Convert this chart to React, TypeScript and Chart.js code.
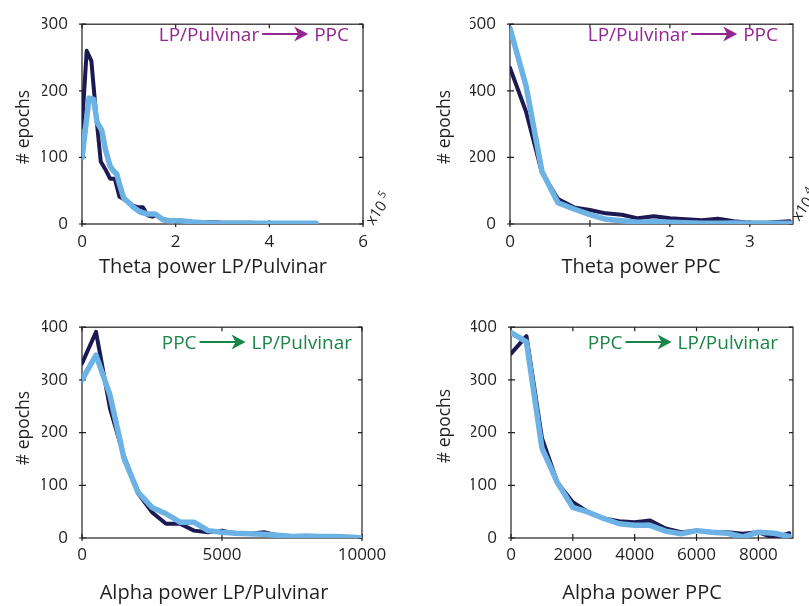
import React, { useEffect, useRef } from "react";
import { Chart, registerables } from "chart.js";

Chart.register(...registerables);
Chart.defaults.font.family = "'Open Sans', sans-serif";
Chart.defaults.color = "#231f20";

// ---- Panel 1: Theta power LP/Pulvinar (x10^5) ----
const thetaLpDarkX = [0, 0.1, 0.2, 0.3, 0.4, 0.5, 0.6, 0.7, 0.8, 0.9, 1.0, 1.1, 1.2, 1.3, 1.4, 1.5, 1.6, 1.7, 1.8, 2.0, 2.2, 2.4, 2.6, 2.8, 3.0, 3.2, 3.4, 3.6, 3.8, 4.0, 4.2, 4.4, 4.6, 4.8, 5.0];
const thetaLpDarkY = [146, 260, 245, 165, 94, 82, 68, 68, 41, 37, 32, 27, 25, 25, 13, 11, 13, 8, 6, 4, 4, 3, 3, 3, 2, 2, 2, 2, 1, 1, 1, 1, 1, 1, 1];
const thetaLpLightX = [0, 0.15, 0.25, 0.32, 0.42, 0.5, 0.6, 0.67, 0.74, 0.8, 0.89, 1.0, 1.1, 1.24, 1.4, 1.56, 1.74, 1.9, 2.1, 2.35, 2.6, 3.0, 3.5, 4.0, 4.5, 5.0];
const thetaLpLightY = [99, 189, 187, 153, 141, 112, 87, 80, 75, 60, 39, 32, 25, 18, 15, 15, 6, 5, 5, 3, 2, 1, 1, 1, 1, 1];
const thetaLpXTicks = [0, 2, 4, 6];
const thetaLpYTicks = [0, 100, 200, 300];

// ---- Panel 2: Theta power PPC (x10^4) ----
const thetaPpcDarkX = [0, 0.2, 0.4, 0.6, 0.8, 1.0, 1.2, 1.4, 1.6, 1.8, 2.0, 2.2, 2.4, 2.6, 2.8, 3.0, 3.2, 3.5];
const thetaPpcDarkY = [469, 338, 154, 75, 50, 42, 32, 28, 17, 23, 17, 14, 11, 16, 8, 4, 4, 8];
const thetaPpcLightX = [0, 0.2, 0.4, 0.6, 0.8, 1.0, 1.2, 1.4, 1.6, 1.8, 2.0, 2.2, 2.4, 2.6, 2.8, 3.0, 3.2, 3.5];
const thetaPpcLightY = [588, 415, 158, 64, 45, 28, 14, 10, 5, 7, 5, 4, 2, 2, 3, 2, 2, 2];
const thetaPpcXTicks = [0, 1, 2, 3];
const thetaPpcYTicks = [0, 200, 400, 600];

// ---- Panel 3: Alpha power LP/Pulvinar ----
const alphaLpX = [0, 500, 1000, 1500, 2000, 2500, 3000, 3500, 4000, 4500, 5000, 5500, 6000, 6500, 7000, 7500, 8000, 8500, 9000, 9500, 10000];
const alphaLpDarkY = [331, 391, 246, 155, 85, 49, 27, 27, 14, 11, 14, 8, 8, 11, 5, 3, 3, 0, 3, 2, 0];
const alphaLpLightY = [300, 347, 271, 151, 87, 58, 46, 30, 30, 14, 11, 9, 8, 7, 5, 3, 4, 3, 3, 2, 0];
const alphaLpXTicks = [0, 5000, 10000];
const alphaLpYTicks = [0, 100, 200, 300, 400];

// ---- Panel 4: Alpha power PPC ----
const alphaPpcX = [0, 500, 1000, 1500, 2000, 2500, 3000, 3500, 4000, 4500, 5000, 5500, 6000, 6500, 7000, 7500, 8000, 8500, 9000];
const alphaPpcDarkY = [350, 383, 190, 105, 68, 49, 37, 32, 30, 33, 18, 11, 14, 11, 11, 8, 11, 0, 9];
const alphaPpcLightY = [390, 372, 171, 105, 58, 49, 37, 27, 24, 24, 13, 8, 14, 11, 9, 2, 11, 9, 3];
const alphaPpcXTicks = [0, 2000, 4000, 6000, 8000];
const alphaPpcYTicks = [0, 100, 200, 300, 400];

const xTitles = ["Theta power LP/Pulvinar", "Theta power PPC", "Alpha power LP/Pulvinar", "Alpha power PPC"];
const yTitle = "# epochs";
const annotLp = ["LP/Pulvinar", "PPC"];
const annotPpc = ["PPC", "LP/Pulvinar"];

const DARK = "#1c1a50";
const LIGHT = "#6cb2e4";
const PURPLE = "#93278f";
const GREEN = "#1a8548";
const INK = "#231f20";

const pts = (xs: number[], ys: number[]) => xs.map((x, i) => ({ x, y: ys[i] }));

type Cfg = {
  cx: number; cy: number; cw: number; ch: number;
  l: number; r: number; t: number; b: number;
  xMax: number; yMax: number; xTicks: number[]; yTicks: number[];
  xTitle: string; xTitleCx: number; xTitleBase: number;
  yTitleBase: number; yTitleCy: number;
  annot: string[]; annotColor: string; annotRight: number; annotBase: number;
  tickPad: number;
  expo?: { x: number; y: number; sup: string };
  dark: { x: number; y: number }[];
  light: { x: number; y: number }[];
};

const panels: Cfg[] = [
  {
    cx: 0, cy: 0, cw: 404, ch: 303, l: 82, r: 363, t: 14, b: 224,
    xMax: 6, yMax: 300, xTicks: thetaLpXTicks, yTicks: thetaLpYTicks,
    xTitle: xTitles[0], xTitleCx: 213, xTitleBase: 273, yTitleBase: 29, yTitleCy: 127,
    annot: annotLp, annotColor: PURPLE, annotRight: 349, annotBase: 41, tickPad: 8,
    expo: { x: 373, y: 226, sup: "5" },
    dark: pts(thetaLpDarkX, thetaLpDarkY), light: pts(thetaLpLightX, thetaLpLightY),
  },
  {
    cx: 404, cy: 0, cw: 405, ch: 303, l: 510, r: 793, t: 14, b: 224,
    xMax: 3.54, yMax: 600, xTicks: thetaPpcXTicks, yTicks: thetaPpcYTicks,
    xTitle: xTitles[1], xTitleCx: 641, xTitleBase: 273, yTitleBase: 450, yTitleCy: 127,
    annot: annotLp, annotColor: PURPLE, annotRight: 778, annotBase: 41, tickPad: 8,
    expo: { x: 799, y: 222, sup: "4" },
    dark: pts(thetaPpcDarkX, thetaPpcDarkY), light: pts(thetaPpcLightX, thetaPpcLightY),
  },
  {
    cx: 0, cy: 303, cw: 404, ch: 303, l: 82, r: 362, t: 325, b: 538,
    xMax: 10000, yMax: 400, xTicks: alphaLpXTicks, yTicks: alphaLpYTicks,
    xTitle: xTitles[2], xTitleCx: 214, xTitleBase: 599, yTitleBase: 29, yTitleCy: 428,
    annot: annotPpc, annotColor: GREEN, annotRight: 352, annotBase: 349, tickPad: 7,
    dark: pts(alphaLpX, alphaLpDarkY), light: pts(alphaLpX, alphaLpLightY),
  },
  {
    cx: 404, cy: 303, cw: 405, ch: 303, l: 511, r: 793, t: 325, b: 538,
    xMax: 9120, yMax: 400, xTicks: alphaPpcXTicks, yTicks: alphaPpcYTicks,
    xTitle: xTitles[3], xTitleCx: 642, xTitleBase: 599, yTitleBase: 450, yTitleCy: 426,
    annot: annotPpc, annotColor: GREEN, annotRight: 778, annotBase: 349, tickPad: 7,
    dark: pts(alphaPpcX, alphaPpcDarkY), light: pts(alphaPpcX, alphaPpcLightY),
  },
];

function Panel({ cfg }: { cfg: Cfg }) {
  const ref = useRef<HTMLCanvasElement>(null);
  useEffect(() => {
    const ox = cfg.cx, oy = cfg.cy;
    const decor = {
      id: "decor",
      beforeDatasetsDraw(chart: any) {
        const { ctx, chartArea: a, scales } = chart;
        ctx.save();
        ctx.strokeStyle = INK;
        ctx.lineWidth = 1.2;
        ctx.strokeRect(a.left, a.top, a.right - a.left, a.bottom - a.top);
        ctx.beginPath();
        scales.x.ticks.forEach((t: any) => {
          const p = scales.x.getPixelForValue(t.value);
          ctx.moveTo(p, a.bottom + 3); ctx.lineTo(p, a.bottom - 4);
          ctx.moveTo(p, a.top); ctx.lineTo(p, a.top + 4);
        });
        scales.y.ticks.forEach((t: any) => {
          const p = scales.y.getPixelForValue(t.value);
          ctx.moveTo(a.left - 3, p); ctx.lineTo(a.left + 4, p);
          ctx.moveTo(a.right, p); ctx.lineTo(a.right - 4, p);
        });
        ctx.stroke();
        ctx.restore();
      },
      afterDraw(chart: any) {
        const { ctx } = chart;
        ctx.save();
        ctx.fillStyle = INK;
        ctx.font = "20px 'Open Sans', sans-serif";
        ctx.textAlign = "center";
        ctx.textBaseline = "alphabetic";
        ctx.fillText(cfg.xTitle, cfg.xTitleCx - ox, cfg.xTitleBase - oy);
        ctx.save();
        ctx.translate(cfg.yTitleBase - ox, cfg.yTitleCy - oy);
        ctx.rotate(-Math.PI / 2);
        ctx.font = "17.5px 'Open Sans', sans-serif";
        ctx.fillText(yTitle, 0, 0);
        ctx.restore();
        // annotation with arrow
        ctx.font = "19px 'Open Sans', sans-serif";
        ctx.fillStyle = cfg.annotColor;
        ctx.strokeStyle = cfg.annotColor;
        ctx.textAlign = "right";
        const base = cfg.annotBase - oy;
        const right = cfg.annotRight - ox;
        ctx.fillText(cfg.annot[1], right, base);
        const w2 = ctx.measureText(cfg.annot[1]).width;
        const tip = right - w2 - 6;
        const start = tip - 46;
        const sy = base - 7;
        ctx.lineWidth = 2;
        ctx.beginPath();
        ctx.moveTo(start, sy);
        ctx.lineTo(tip - 9, sy);
        ctx.stroke();
        ctx.beginPath();
        ctx.moveTo(tip, sy);
        ctx.lineTo(tip - 14, sy - 7.5);
        ctx.lineTo(tip - 10, sy);
        ctx.lineTo(tip - 14, sy + 7.5);
        ctx.closePath();
        ctx.fill();
        ctx.fillText(cfg.annot[0], start - 3, base);
        if (cfg.expo) {
          ctx.save();
          ctx.translate(cfg.expo.x - ox, cfg.expo.y - oy);
          ctx.rotate((-55 * Math.PI) / 180);
          ctx.fillStyle = INK;
          ctx.textAlign = "left";
          ctx.font = "15px 'Open Sans', sans-serif";
          ctx.fillText("x10", 0, 0);
          const w = ctx.measureText("x10").width;
          ctx.font = "11px 'Open Sans', sans-serif";
          ctx.fillText(cfg.expo.sup, w + 3, -7);
          ctx.restore();
        }
        ctx.restore();
      },
    };

    const chart = new Chart(ref.current as HTMLCanvasElement, {
      type: "line",
      data: {
        datasets: [
          {
            data: cfg.light, borderColor: LIGHT, borderWidth: 5.5, pointRadius: 0,
            tension: 0, borderJoinStyle: "round", borderCapStyle: "round", fill: false,
          },
          {
            data: cfg.dark, borderColor: DARK, borderWidth: 4, pointRadius: 0,
            tension: 0, borderJoinStyle: "round", borderCapStyle: "round", fill: false,
          },
        ],
      },
      options: {
        responsive: false,
        animation: false,
        events: [],
        layout: {
          autoPadding: false,
          padding: {
            left: cfg.l - ox - 40,
            right: ox + cfg.cw - cfg.r,
            top: cfg.t - oy,
            bottom: oy + cfg.ch - cfg.b - 40,
          },
        },
        plugins: { legend: { display: false }, tooltip: { enabled: false } },
        scales: {
          x: {
            type: "linear", min: 0, max: cfg.xMax,
            afterBuildTicks: (s: any) => { s.ticks = cfg.xTicks.map((v) => ({ value: v })); },
            ticks: {
              padding: cfg.tickPad, font: { size: 17 }, color: INK, maxRotation: 0, autoSkip: false,
              callback: (v: any) => String(v),
            },
            grid: { display: false, drawTicks: false },
            border: { display: false },
            afterFit: (s: any) => { s.height = 40; },
          },
          y: {
            type: "linear", min: 0, max: cfg.yMax,
            afterBuildTicks: (s: any) => { s.ticks = cfg.yTicks.map((v) => ({ value: v })); },
            ticks: { padding: 14, font: { size: 17 }, color: INK, callback: (v: any) => String(v) },
            grid: { display: false, drawTicks: false },
            border: { display: false },
            afterFit: (s: any) => { s.width = 40; },
          },
        },
      } as any,
      plugins: [decor],
    });
    return () => chart.destroy();
  }, []);
  return (
    <canvas
      ref={ref}
      width={cfg.cw}
      height={cfg.ch}
      style={{ position: "absolute", left: cfg.cx, top: cfg.cy, width: cfg.cw, height: cfg.ch }}
    />
  );
}

export default function App() {
  return (
    <div style={{ position: "absolute", left: 0, top: 0, width: 809, height: 606, background: "#fff", overflow: "hidden" }}>
      {panels.map((p, i) => (
        <Panel key={i} cfg={p} />
      ))}
    </div>
  );
}
